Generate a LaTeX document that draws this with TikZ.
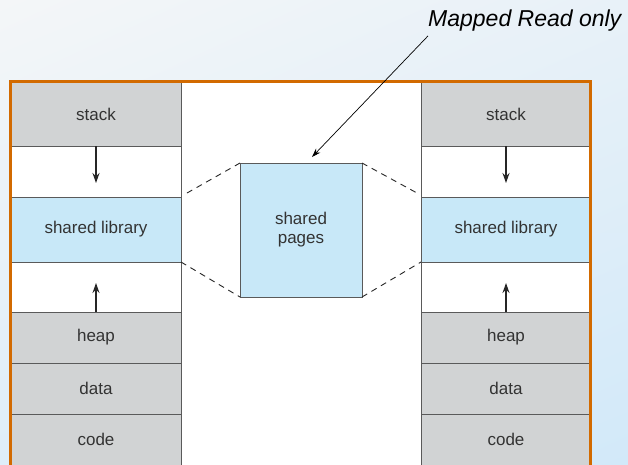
\documentclass[tikz,border=0pt]{standalone}
\usepackage{fontspec}
\setmainfont{Liberation Sans}
\usetikzlibrary{arrows.meta,positioning,shadings}
\definecolor{segGray}{HTML}{D1D3D4}
\definecolor{libBlue}{HTML}{C8E8F8}
\definecolor{lineGray}{HTML}{5A5A5A}
\definecolor{txt}{HTML}{333333}
\definecolor{frameOrange}{HTML}{D26A00}
\definecolor{bgUL}{HTML}{F4F6F8}
\definecolor{bgUR}{HTML}{E8F1F8}
\definecolor{bgLL}{HTML}{DEEEF9}
\definecolor{bgLR}{HTML}{D2E9F9}

\begin{document}
\begin{tikzpicture}[
  x=1pt,y=-1pt,
  node distance=0pt,
  seg/.style={draw=lineGray,line width=0.9pt,minimum width=170pt,outer sep=0pt,inner sep=0pt,
    font=\fontsize{17}{19}\selectfont,text=txt,align=center},
  grayseg/.style={seg,fill=segGray},
  blueseg/.style={seg,fill=libBlue},
  gapseg/.style={seg,fill=white},
  arr/.style={-{Stealth[length=10pt,width=7pt]},line width=1.3pt,draw=black!85},
  link/.style={dash pattern=on 6pt off 5pt,line width=0.9pt,draw=black!85}
]
\useasboundingbox (0,0) rectangle (628,464);
% background and frame
\shade[upper left=bgUL,upper right=bgUR,lower left=bgLL,lower right=bgLR]
  (0,0) rectangle (628,464);
\fill[white] (10,81) rectangle (590,470);

% left process
\node[grayseg,minimum height=64pt] (lstack) at (96,114) {stack};
\node[gapseg,minimum height=51pt,below=of lstack] (lgap1) {};
\node[blueseg,minimum height=65pt,below=of lgap1] (llib) {shared library};
\node[gapseg,minimum height=50pt,below=of llib] (lgap2) {};
\node[grayseg,minimum height=51pt,below=of lgap2] (lheap) {heap};
\node[grayseg,minimum height=51pt,below=of lheap] (ldata) {data};
\node[grayseg,minimum height=51pt,below=of ldata] (lcode) {code};

% right process
\node[grayseg,minimum height=64pt] (rstack) at (506,114) {stack};
\node[gapseg,minimum height=51pt,below=of rstack] (rgap1) {};
\node[blueseg,minimum height=65pt,below=of rgap1] (rlib) {shared library};
\node[gapseg,minimum height=50pt,below=of rlib] (rgap2) {};
\node[grayseg,minimum height=51pt,below=of rgap2] (rheap) {heap};
\node[grayseg,minimum height=51pt,below=of rheap] (rdata) {data};
\node[grayseg,minimum height=51pt,below=of rdata] (rcode) {code};

% physical memory
\node[blueseg,minimum width=122pt,minimum height=134pt] (pages) at (301,230) {shared\\pages};

\draw[frameOrange,line width=3pt] (10.5,470) -- (10.5,81) -- (590.5,81) -- (590.5,470);

\draw[arr] (lstack.south) -- ([yshift=14pt]lgap1.south);
\draw[arr] (lheap.north) -- ([yshift=-21pt]lgap2.north);
\draw[arr] (rstack.south) -- ([yshift=14pt]rgap1.south);
\draw[arr] (rheap.north) -- ([yshift=-21pt]rgap2.north);

\draw[link] ([xshift=6pt,yshift=4pt]llib.north east) -- (pages.north west);
\draw[link] (llib.south east) -- (pages.south west);
\draw[link] (pages.north east) -- ([xshift=-4pt,yshift=4pt]rlib.north west);
\draw[link] (pages.south east) -- (rlib.south west);

\node[anchor=west,font=\fontsize{23}{26}\selectfont\itshape,inner sep=0pt] (note) at (428,21) {Mapped Read only};
\coordinate (tip) at (312,157);
\draw[-{Stealth[length=9pt,width=6pt]},line width=0.7pt] ([yshift=-4pt]note.south west) -- (tip);
\end{tikzpicture}
\end{document}
